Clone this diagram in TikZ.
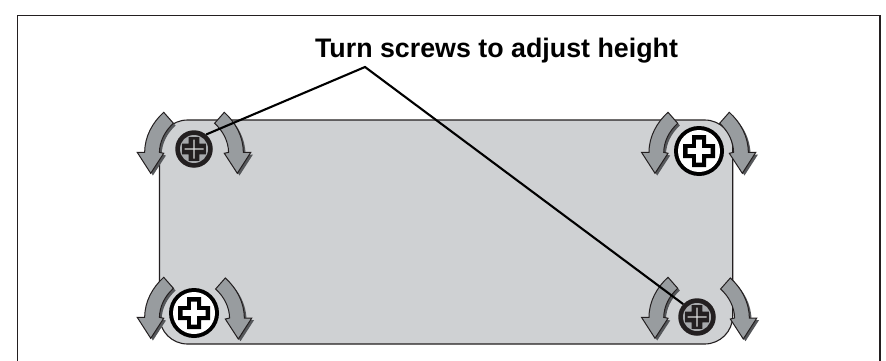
\documentclass[tikz,border=0pt]{standalone}
\usepackage{fontspec}
\setmainfont{Liberation Sans}
\definecolor{platefill}{HTML}{CFD1D3}
\definecolor{inkdark}{HTML}{231F20}
\definecolor{arrowfill}{HTML}{989C9F}
\definecolor{arrowshade}{HTML}{55575A}
\definecolor{ringfill}{HTML}{A7A9AC}
\newcommand{\crossat}[2]{% half length, half arm
  (-#1,-#2) -- (-#2,-#2) -- (-#2,-#1) -- (#2,-#1) -- (#2,-#2) -- (#1,-#2) -- (#1,#2) -- (#2,#2) -- (#2,#1) -- (-#2,#1) -- (-#2,#2) -- (-#1,#2) -- cycle}
\newcommand{\turnshape}{(0,0) -- (13,-20) -- (8.7,-21) .. controls (9,-32) and (14,-42) .. (22.7,-50) -- (13,-61) .. controls (2,-51) and (-6,-37) .. (-6,-21) -- (-13.5,-21) -- cycle}
\tikzset{
  x=1pt,y=-1pt,
  frameline/.style={draw=inkdark,line width=1.6pt},
  plateshape/.style={draw=inkdark,fill=platefill,line width=1.1pt,rounded corners=28pt},
  leader/.style={draw=black,line width=2.1pt},
  label/.style={font=\fontsize{26.8}{30}\selectfont\bfseries,text=black,inner sep=0pt},
  darkscrew/.style={circle,draw=none,fill=inkdark,minimum size=37.5pt,inner sep=0pt},
  lightscrew/.style={circle,draw=none,fill=black,minimum size=50pt,inner sep=0pt},
  turnleft/.pic={
    \fill[arrowshade,shift={(2.2,2.2)}] \turnshape;
    \draw[draw=inkdark,fill=arrowfill,line width=1pt,line join=miter] \turnshape;
  },
  turnright/.pic={
    \fill[arrowshade,shift={(2.2,2.2)},xscale=-1] \turnshape;
    \draw[draw=inkdark,fill=arrowfill,line width=1pt,line join=miter,xscale=-1] \turnshape;
  },
  darkhead/.pic={
    \fill[ringfill] (0,0) circle[radius=14];
    \fill[inkdark] \crossat{11.8}{5.3};
    \fill[white!85!black] \crossat{9.5}{0.6};
  },
  lighthead/.pic={
    \fill[white] (0,0) circle[radius=21];
    \fill[black] \crossat{16}{7};
    \fill[white] \crossat{11.5}{2.8};
  },
}
\begin{document}
\begin{tikzpicture}
\useasboundingbox (0,0) rectangle (886,361);
\fill[white] (0,0) rectangle (886,361);
\draw[frameline] (17.5,361) -- (17.5,15.5) -- (880,15.5) -- (880,361);
\draw[plateshape] (159.5,120) rectangle (732.7,344);
\pic at (150.7,173.3) {turnleft};
\pic at (237.3,173.3) {turnright};
\pic at (655,173.3) {turnleft};
\pic at (742.3,173.3) {turnright};
\pic at (150.7,338.3) {turnleft};
\pic at (238.3,339) {turnright};
\pic at (655,338.3) {turnleft};
\pic at (743.3,339) {turnright};
\node[darkscrew] (tl) at (194,149) {};
\node[lightscrew] (tr) at (699,151) {};
\node[lightscrew] (bl) at (194,313) {};
\node[darkscrew] (br) at (697,317) {};
\pic at (tl.center) {darkhead};
\pic at (tr.center) {lighthead};
\pic at (bl.center) {lighthead};
\pic at (br.center) {darkhead};
\node[label,anchor=base] (title) at (496.5,57.7) {Turn screws to adjust height};
\coordinate (apex) at (365,67);
\draw[leader,line join=miter] (tl.50) -- (apex) -- (br.137);
\end{tikzpicture}
\end{document}
